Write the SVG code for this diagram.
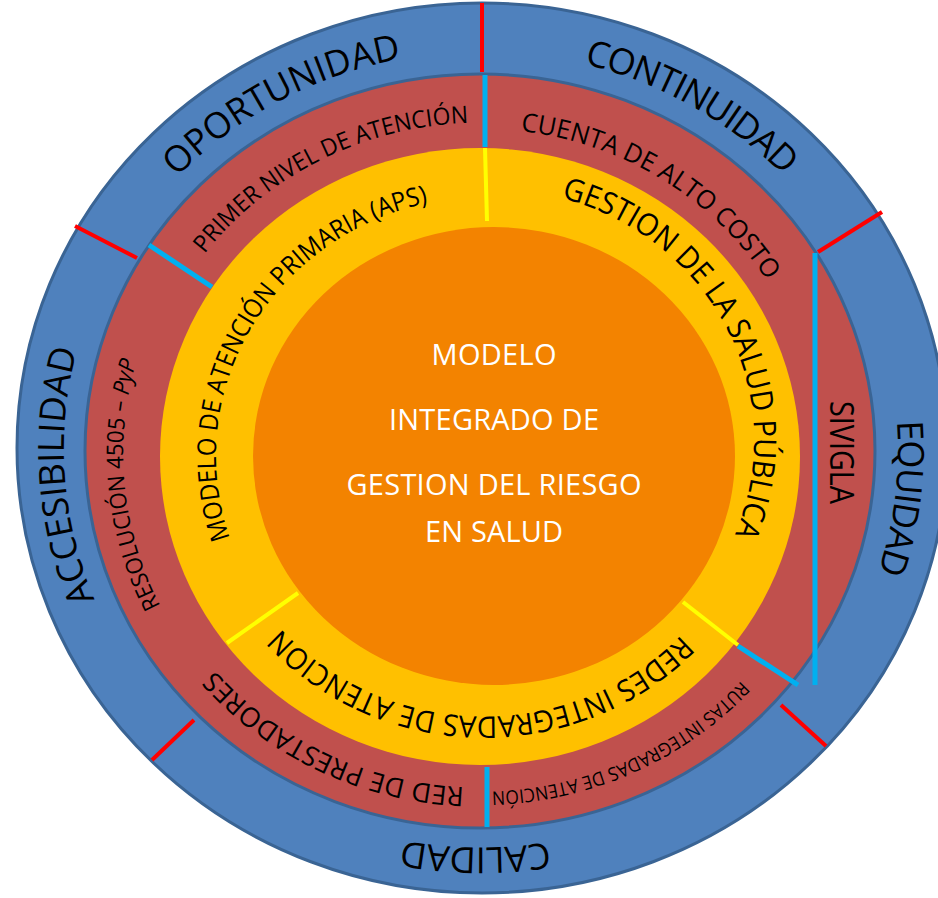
<svg xmlns="http://www.w3.org/2000/svg" width="938" height="898" viewBox="0 0 938 898">
<style>
text{font-family:"Open Sans","Liberation Sans",sans-serif;fill:#000;}
.c{fill:#fff;text-anchor:middle;font-size:29px;}
.rr{stroke:#FF0000;stroke-width:4;}
.cy{stroke:#00B0F0;stroke-width:5;}
.yl{stroke:#FFFF00;stroke-width:4;}
</style>
<defs>
<path id="pOpo" d="M70.1,517.2 A417,398 0 0 1 750.2,145.5"/>
<path id="pCon" d="M220.7,138.6 A417,398 0 0 1 889.8,528.0"/>
<path id="pEqu" d="M668.0,93.8 A417,398 0 0 1 577.3,836.8"/>
<path id="pCal" d="M870.8,590.8 A417,398 0 0 1 87.2,580.4"/>
<path id="pAcc" d="M363.7,831.5 A417,398 0 0 1 313.6,85.0"/>
<path id="pPri" d="M137.5,496.4 A345.4,331 0 0 1 713.8,210.1"/>
<path id="pCue" d="M276.5,193.8 A339,325 0 0 1 810.2,527.5"/>
<path id="pRes" d="M388.9,784.6 A357,342.2 0 0 1 328.0,144.2"/>
<path id="pRed" d="M718.5,697.1 A348.5,333.75 0 0 1 133.9,414.3"/>
<path id="pRut" d="M830.8,421.0 A352.5,338 0 0 1 233.1,695.0"/>
<path id="pMod" d="M282.0,625.6 A271,259.25 0 0 1 529.9,200.0"/>
<path id="pGes" d="M464.8,190.4 A262,251 0 0 1 680.4,614.5"/>
<path id="pRds" d="M736.5,550.6 A270.5,258.5 0 0 1 228.2,542.2"/>
</defs>

<g id="ring-blue">
<ellipse cx="482" cy="448" rx="465" ry="445" fill="#4F81BD" stroke="#3A6494" stroke-width="3"/>
</g>
<g id="ring-red">
<ellipse cx="480" cy="451" rx="395" ry="377" fill="#C0504D" stroke="#3A6494" stroke-width="3"/>
</g>
<g id="ring-yellow">
<ellipse cx="480" cy="456.5" rx="320" ry="308.5" fill="#FFC000"/>
</g>
<g id="core">
<ellipse cx="494" cy="456" rx="241" ry="229" fill="#F38300"/>
<text class="c" x="494" y="365" textLength="125">MODELO</text>
<text class="c" x="494" y="430" textLength="210">INTEGRADO DE</text>
<text class="c" x="494" y="495" textLength="295">GESTION DEL RIESGO</text>
<text class="c" x="494" y="542" textLength="138">EN SALUD</text>
</g>

<g id="connectors">
<line class="rr" x1="482" y1="3" x2="482" y2="72"/>
<line class="rr" x1="818" y1="252" x2="882" y2="212"/>
<line class="rr" x1="75" y1="226" x2="137" y2="258"/>
<line class="rr" x1="152" y1="760" x2="194" y2="720"/>
<line class="rr" x1="781" y1="705" x2="826" y2="746"/>
<line class="cy" x1="485" y1="75" x2="485" y2="147"/>
<line class="cy" x1="149" y1="245" x2="212" y2="287"/>
<line class="cy" x1="815" y1="253" x2="815" y2="685"/>
<line class="cy" x1="738" y1="646" x2="798" y2="685"/>
<line class="cy" x1="487" y1="767" x2="487" y2="827"/>
<line class="yl" x1="485" y1="148" x2="487" y2="221"/>
<line class="yl" x1="227" y1="643" x2="298" y2="593"/>
<line class="yl" x1="683" y1="602" x2="738" y2="645"/>
</g>

<g id="blue-labels" font-size="36" text-anchor="middle">
<text id="oportunidad"><textPath href="#pOpo" startOffset="50%" textLength="258">OPORTUNIDAD</textPath></text>
<text id="continuidad"><textPath href="#pCon" startOffset="50%" textLength="232">CONTINUIDAD</textPath></text>
<text id="equidad"><textPath href="#pEqu" startOffset="50%" textLength="153">EQUIDAD</textPath></text>
<text id="calidad"><textPath href="#pCal" startOffset="50%" textLength="147">CALIDAD</textPath></text>
<text id="accesibilidad"><textPath href="#pAcc" startOffset="50%" textLength="255">ACCESIBILIDAD</textPath></text>
</g>

<g id="red-labels" text-anchor="middle">
<text id="primer-nivel" font-size="24"><textPath href="#pPri" startOffset="49.5%" textLength="304" lengthAdjust="spacingAndGlyphs">PRIMER NIVEL DE ATENCIÓN</textPath></text>
<text id="cuenta-alto-costo" font-size="26"><textPath href="#pCue" startOffset="50%" textLength="298" lengthAdjust="spacingAndGlyphs">CUENTA DE ALTO COSTO</textPath></text>
<text id="resolucion" font-size="23"><textPath href="#pRes" startOffset="50%" textLength="252" lengthAdjust="spacingAndGlyphs">RESOLUCIÓN 4505 – <tspan font-style="italic">PyP</tspan></textPath></text>
<text id="red-prestadores" font-size="27"><textPath href="#pRed" startOffset="50%" textLength="283">RED DE PRESTADORES</textPath></text>
<text id="rutas" font-size="19"><textPath href="#pRut" startOffset="50%" textLength="280" lengthAdjust="spacingAndGlyphs">RUTAS INTEGRADAS DE ATENCIÓN</textPath></text>
<text id="sivigla" font-size="32" transform="translate(830,452.5) rotate(90)" textLength="103" lengthAdjust="spacingAndGlyphs">SIVIGLA</text>
</g>

<g id="yellow-labels" text-anchor="middle">
<text id="modelo-aps" font-size="26"><textPath href="#pMod" startOffset="50%" textLength="441" lengthAdjust="spacingAndGlyphs">MODELO DE ATENCIÓN PRIMARIA (APS)</textPath></text>
<text id="gestion-salud" font-size="31"><textPath href="#pGes" startOffset="50%" textLength="430" lengthAdjust="spacingAndGlyphs">GESTION DE LA SALUD PÚBLICA</textPath></text>
<text id="redes" font-size="30"><textPath href="#pRds" startOffset="50%" textLength="447" lengthAdjust="spacingAndGlyphs">REDES INTEGRADAS DE ATENCION</textPath></text>
</g>
</svg>
